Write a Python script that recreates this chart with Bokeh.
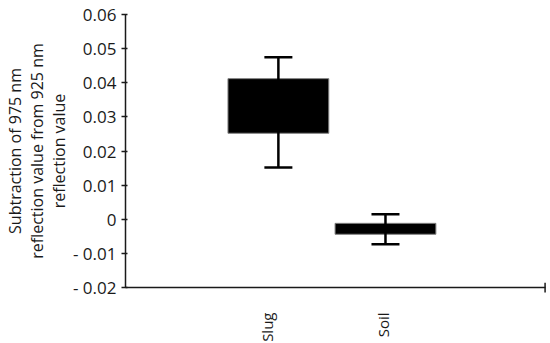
import math
from bokeh.plotting import figure
from bokeh.models import Range1d, FixedTicker, Whisker, TeeHead, ColumnDataSource
from bokeh.embed import file_html
from bokeh.resources import INLINE

# ---- data ----
categories = ["Slug", "Soil"]
box_top = [0.0412, -0.0012]
box_bottom = [0.0252, -0.0044]
whisker_top = [0.0475, 0.0015]
whisker_bottom = [0.0152, -0.0073]
y_ticks = [-0.02, -0.01, 0.0, 0.01, 0.02, 0.03, 0.04, 0.05, 0.06]
y_tick_labels = ["- 0.02", "- 0.01", "0", "0.01", "0.02", "0.03", "0.04", "0.05", "0.06"]

# ---- layout constants ----
x_pos = [0.364, 0.619]
label_pos = [0.338, 0.612]
FONT = "Open Sans"
INK = "#1a1a1a"

src = ColumnDataSource(dict(x=x_pos, top=box_top, bottom=box_bottom,
                            upper=whisker_top, lower=whisker_bottom))

p = figure(output_backend="svg", toolbar_location=None,
           x_range=Range1d(0, 1), y_range=Range1d(-0.02, 0.06),
           frame_width=420, frame_height=273,
           min_border_left=0, min_border_top=14, min_border_right=6, min_border_bottom=0)
p.grid.visible = False
p.outline_line_color = None

p.vbar(x="x", top="top", bottom="bottom", width=0.24, source=src,
       fill_color="black", line_color="#7f7f7f", line_width=1)

w = Whisker(base="x", upper="upper", lower="lower", source=src,
            line_color="black", line_width=2.5,
            upper_head=TeeHead(size=28, line_color="black", line_width=2.5),
            lower_head=TeeHead(size=28, line_color="black", line_width=2.5))
w.level = "overlay"
p.add_layout(w)

# end tick on the x axis
end_tick = p.segment(x0=[0.999], x1=[0.999], y0=[-0.0215], y1=[-0.0186],
                     line_color=INK, line_width=1.5)
end_tick.level = "overlay"

# y axis
ya = p.yaxis[0]
ya.ticker = FixedTicker(ticks=y_ticks)
ya.major_label_overrides = {t: l for t, l in zip(y_ticks, y_tick_labels)}
ya.minor_tick_line_color = None
ya.major_tick_in = 2
ya.major_tick_out = 4
ya.axis_line_width = 1.5
ya.major_tick_line_width = 1.5
ya.axis_line_color = INK
ya.major_tick_line_color = INK
ya.major_label_text_font = FONT
ya.major_label_text_font_size = "17px"
ya.major_label_text_color = INK
ya.major_label_standoff = 5
ya.axis_label = "Subtraction of 975 nm\nreflection value from 925 nm\nreflection value"
ya.axis_label_text_font = FONT
ya.axis_label_text_font_size = "16px"
ya.axis_label_text_font_style = "normal"
ya.axis_label_text_color = INK
ya.axis_label_text_line_height = 1.0
ya.axis_label_standoff = 0

# x axis: line + category labels
xa = p.xaxis[0]
xa.ticker = FixedTicker(ticks=label_pos)
xa.major_label_overrides = {t: c for t, c in zip(label_pos, categories)}
xa.major_tick_line_color = None
xa.minor_tick_line_color = None
xa.major_tick_in = 0
xa.major_tick_out = 0
xa.axis_line_width = 1.5
xa.axis_line_color = INK
xa.major_label_orientation = math.pi / 2
xa.major_label_text_font = FONT
xa.major_label_text_font_size = "15px"
xa.major_label_text_color = INK
xa.major_label_standoff = 25

open("out.html", "w").write(file_html(p, INLINE))
